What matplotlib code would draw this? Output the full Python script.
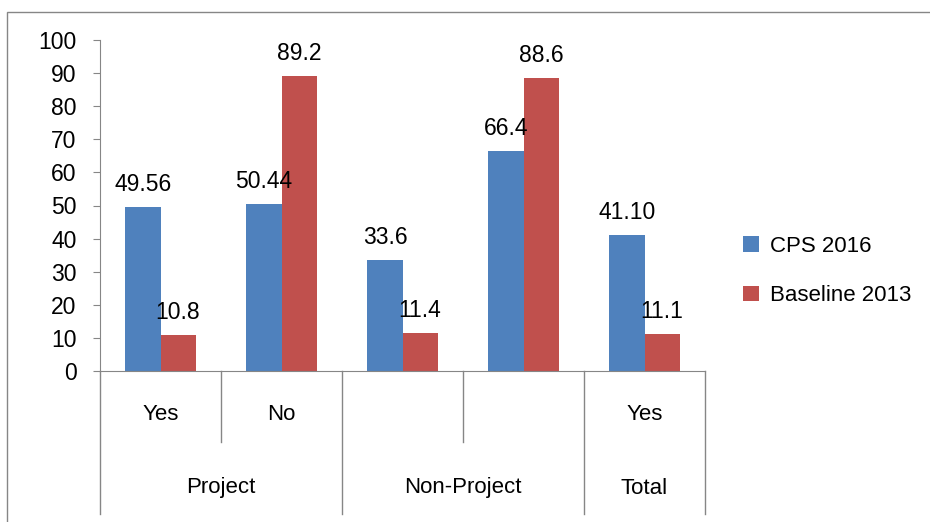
import numpy as np
import matplotlib
matplotlib.use("Agg")
from matplotlib import pyplot as plt
from matplotlib.patches import Rectangle

plt.rcParams['font.family'] = ['Liberation Sans', 'DejaVu Sans']

# two-level category axis
sub_labels = ['Yes', 'No', '', '', 'Yes']
groups = ['Project', 'Non-Project', 'Total']
group_sizes = [2, 2, 1]

series_names = ['CPS 2016', 'Baseline 2013']
cps_2016 = [49.56, 50.44, 33.6, 66.4, 41.10]
baseline_2013 = [10.8, 89.2, 11.4, 88.6, 11.1]
cps_text = ['49.56', '50.44', '33.6', '66.4', '41.10']
base_text = ['10.8', '89.2', '11.4', '88.6', '11.1']

blue = '#4F81BD'
red = '#C0504D'
grey = '#868686'

W, H = 930, 522
fig = plt.figure(figsize=(W / 100, H / 100), dpi=100)

# outer chart frame
fig.patches.append(Rectangle((7 / W, -0.05), 1.1, (522 - 12) / H + 0.05,
                             transform=fig.transFigure, fill=False,
                             edgecolor=grey, lw=1.0))

x0, x1, ytop, ybot = 100, 705, 40, 371
ax = fig.add_axes([x0 / W, (H - ybot) / H, (x1 - x0) / W, (ybot - ytop) / H])

x = np.arange(len(sub_labels))
bw = 0.29
b1 = ax.bar(x - bw / 2, cps_2016, bw, color=blue, label=series_names[0])
b2 = ax.bar(x + bw / 2, baseline_2013, bw, color=red, label=series_names[1])

for rects, texts in ((b1, cps_text), (b2, base_text)):
    for r, t in zip(rects, texts):
        ax.annotate(t, (r.get_x() + r.get_width() / 2, r.get_height()),
                    xytext=(0, 8), textcoords='offset points',
                    ha='center', va='bottom', fontsize=16.5)

ax.set_xlim(-0.5, len(sub_labels) - 0.5)
ax.set_ylim(0, 100)
ax.set_yticks(np.arange(0, 101, 10))
ax.tick_params(axis='y', labelsize=16.5, length=5, color=grey, pad=12)
ax.set_xticks([])
for s in ('top', 'right'):
    ax.spines[s].set_visible(False)
ax.spines['left'].set_color(grey)
ax.spines['bottom'].set_color(grey)

# category separators and labels below the axis
tr = ax.get_xaxis_transform()
short_y = (ybot - 442) / (ybot - ytop)
long_y = (ybot - 514) / (ybot - ytop)
sub_y = (ybot - 415) / (ybot - ytop)
grp_y = (ybot - 488) / (ybot - ytop)

edges = np.cumsum([0] + group_sizes) - 0.5
for e in np.arange(-0.5, len(sub_labels)):
    bottom = long_y if np.any(np.isclose(edges, e)) else short_y
    ax.plot([e, e], [0, bottom], transform=tr, color=grey, lw=1.0, clip_on=False)

for xi, lab in zip(x, sub_labels):
    ax.text(xi, sub_y, lab, transform=tr, ha='center', va='center', fontsize=16)
for g, a, b in zip(groups, edges[:-1], edges[1:]):
    ax.text((a + b) / 2, grp_y, g, transform=tr, ha='center', va='center', fontsize=16)

fig.legend(handles=[b1, b2], labels=series_names, loc='center left',
           bbox_to_anchor=(723 / W, (H - 271) / H), frameon=False,
           fontsize=16, handlelength=0.7, handleheight=0.7, labelspacing=1.3,
           handletextpad=0.5)

fig.savefig('out.png', dpi=100)
